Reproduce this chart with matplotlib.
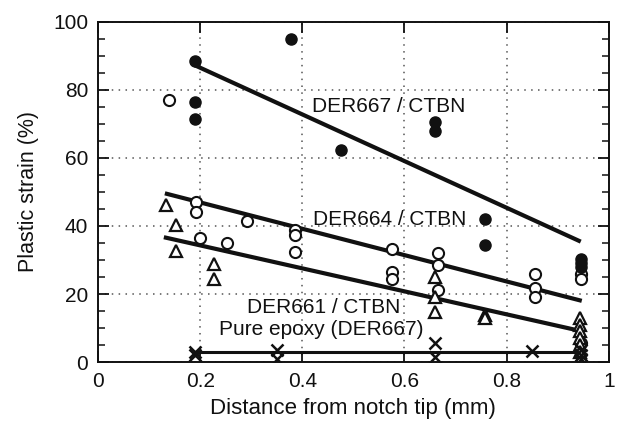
import numpy as np
import matplotlib
matplotlib.use("Agg")
import matplotlib.pyplot as plt
from matplotlib.ticker import MultipleLocator

plt.rcParams['font.family'] = ['Liberation Sans', 'DejaVu Sans']

# ─── Data ───
# DER667 / CTBN (filled circles)
x667 = [0.19, 0.19, 0.19, 0.377, 0.476, 0.66, 0.66, 0.757, 0.757, 0.945, 0.945, 0.945]
y667 = [88.5, 76.5, 71.5, 95.0, 62.3, 70.6, 67.9, 42.0, 34.4, 30.3, 29.1, 28.0]

# DER664 / CTBN (open circles)
x664 = [0.14, 0.192, 0.192, 0.2, 0.253, 0.291, 0.385, 0.385, 0.385, 0.575, 0.575, 0.575,
        0.666, 0.666, 0.666, 0.855, 0.855, 0.855, 0.945, 0.945, 0.945]
y664 = [77.0, 47.0, 44.0, 36.4, 35.0, 41.6, 38.8, 37.3, 32.3, 33.2, 26.6, 24.3,
        32.1, 28.5, 21.2, 25.8, 21.9, 19.2, 25.8, 24.4, 5.5]

# DER661 / CTBN (open triangles)
x661 = [0.133, 0.153, 0.153, 0.227, 0.227, 0.66, 0.66, 0.66, 0.757, 0.757,
        0.943, 0.943, 0.943, 0.943, 0.943, 0.943]
y661 = [46.2, 40.3, 32.6, 28.7, 24.4, 24.9, 19.2, 14.6, 13.8, 13.0,
        13.0, 11.0, 9.0, 7.0, 5.0, 3.0]

# Pure epoxy (DER667) (crosses)
xep = [0.19, 0.19, 0.35, 0.35, 0.66, 0.66, 0.85, 0.945, 0.945, 0.945]
yep = [3.0, 2.0, 3.5, 1.0, 5.5, 1.5, 3.2, 3.5, 2.0, 0.8]

# fitted lines (end points)
fit667_x, fit667_y = [0.19, 0.945], [87.2, 35.4]
fit664_x, fit664_y = [0.131, 0.947], [49.6, 18.0]
fit661_x, fit661_y = [0.129, 0.943], [36.7, 9.2]
fitep_x, fitep_y = [0.19, 0.95], [3.0, 3.0]

fig = plt.figure(figsize=(6.2, 4.28), dpi=100)
ax = fig.add_axes([0.158, 0.154, 0.824, 0.795])

K = '#111111'
lw_fit = 3.0
ax.plot(fit667_x, fit667_y, color=K, lw=lw_fit, solid_capstyle='butt', zorder=3)
ax.plot(fit664_x, fit664_y, color=K, lw=lw_fit, solid_capstyle='butt', zorder=3)
ax.plot(fit661_x, fit661_y, color=K, lw=lw_fit, solid_capstyle='butt', zorder=3)
ax.plot(fitep_x, fitep_y, color=K, lw=2.2, solid_capstyle='butt', zorder=3)

ax.plot(x667, y667, 'o', ms=8, mfc=K, mec=K, zorder=5)
ax.plot(x664, y664, 'o', ms=8, mfc='white', mec=K, mew=1.5, zorder=4)
ax.plot(x661, y661, '^', ms=8.5, mfc='white', mec=K, mew=1.6, zorder=4)
ax.plot(xep, yep, 'x', ms=8, mec=K, mew=1.8, zorder=4)

tkw = dict(fontsize=15, color=K)
ax.text(0.418, 73.4, 'DER667 / CTBN', ha='left', va='baseline', **tkw)
ax.text(0.421, 40.3, 'DER664 / CTBN', ha='left', va='baseline', **tkw)
ax.text(0.291, 14.3, 'DER661 / CTBN', ha='left', va='baseline', **tkw)
ax.text(0.237, 7.9, 'Pure epoxy (DER667)', ha='left', va='baseline', **tkw)

ax.set_xlim(0, 1)
ax.set_ylim(0, 100)
ax.xaxis.set_major_locator(MultipleLocator(0.2))
ax.yaxis.set_major_locator(MultipleLocator(20))
ax.yaxis.set_minor_locator(MultipleLocator(5))
ax.set_xticks([0, 0.2, 0.4, 0.6, 0.8, 1])
ax.set_xticklabels(['0', '0.2', '0.4', '0.6', '0.8', '1'])
ax.tick_params(which='both', direction='in', top=True, right=True, colors=K)
ax.tick_params(which='major', length=8, width=1.3, labelsize=15, pad=7)
ax.tick_params(which='minor', length=5, width=1.1)

ax.grid(True, which='major', linestyle=(0, (1, 3.5)), linewidth=1.1, color='#555555')
for s in ax.spines.values():
    s.set_linewidth(1.4)
    s.set_color(K)

ax.set_xlabel('Distance from notch tip (mm)', fontsize=16, color=K, labelpad=5)
ax.set_ylabel('Plastic strain (%)', fontsize=15.5, color=K, labelpad=10)

fig.savefig('out.png', dpi=100)
